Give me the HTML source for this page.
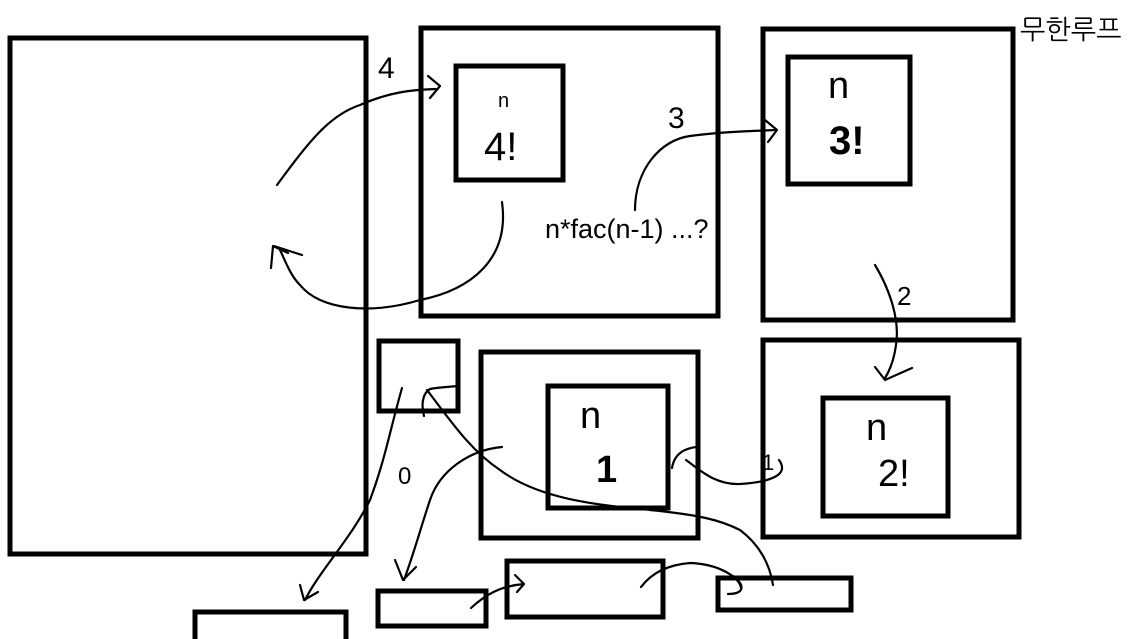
<!DOCTYPE html>
<html><head><meta charset="utf-8"><style>
html,body{margin:0;padding:0;background:#fff;}
svg{display:block;}
text{font-family:"Liberation Sans","NanumGothic","Noto Sans CJK KR",sans-serif;}
.hw{font-family:"Liberation Sans",sans-serif;font-weight:normal;}
</style></head><body>
<svg width="1129" height="639" viewBox="0 0 1129 639" xmlns="http://www.w3.org/2000/svg">
<g fill="none" stroke="#000" stroke-width="5">
<rect x="10" y="38" width="356" height="516"/>
<rect x="421" y="28" width="297" height="288"/>
<rect x="456" y="66" width="107" height="114"/>
<rect x="763" y="29" width="250" height="291"/>
<rect x="788" y="57" width="122" height="127"/>
<rect x="763" y="340" width="256" height="197"/>
<rect x="823" y="398" width="125" height="118"/>
<rect x="481" y="352" width="217" height="186"/>
<rect x="548" y="386" width="120" height="122"/>
<rect x="379" y="341" width="79" height="70"/>
<rect x="195" y="612" width="151" height="40"/>
<rect x="378" y="591" width="108" height="35"/>
<rect x="507" y="561" width="156" height="56"/>
<rect x="718" y="578" width="133" height="32"/>
</g>
<g fill="none" stroke="#000" stroke-width="2.2" stroke-linecap="round" stroke-linejoin="round">
<path d="M277 185 C310 140 330 115 360 105 C390 92 410 90 436 89"/>
<path d="M428 76 L440 86 L430 98"/>
<path d="M502 202 C510 260 470 290 420 300 C370 315 320 310 300 285 C290 275 285 260 280 250"/>
<path d="M271 268 L273 246 L288 253 M274 246 L302 255"/>
<path d="M635 210 C635 170 660 140 690 136 C720 132 750 131 776 130"/>
<path d="M765 120 L777 130 L768 142"/>
<path d="M875 265 C890 290 900 320 896 345 C894 360 890 370 885 378"/>
<path d="M875 367 L885 380 L912 368"/>
<path d="M779 460 C790 475 770 482 740 484 C715 485 700 470 686 460"/>
<path d="M672 468 C675 450 690 448 696 447"/>
<path d="M402 388 C390 430 385 460 370 500 C350 540 320 570 305 600"/>
<path d="M300 585 L304 600 L318 592"/>
<path d="M502 447 C470 450 440 470 430 500 C420 530 415 550 404 580"/>
<path d="M395 560 L403 580 L416 567"/>
<path d="M427 390 C450 420 470 450 500 470 C540 500 600 505 650 510 C700 515 720 520 740 530 C760 545 770 565 773 585"/>
<path d="M424 416 C420 400 425 392 430 389 C440 387 450 387 457 386"/>
<path d="M471 608 C485 595 500 586 524 584"/>
<path d="M515 575 L524 584 L517 592"/>
<path d="M641 587 C650 575 665 565 690 563 C720 564 740 578 741 588"/>
<path d="M733 576 C745 585 745 594 728 594"/>
</g>
<text x="378" y="78" font-size="30" class="hw">4</text>
<text x="668" y="128" font-size="30" class="hw">3</text>
<text x="897" y="305" font-size="26" class="hw">2</text>
<text x="762" y="470" font-size="22" class="hw">1</text>
<text x="398" y="484" font-size="24" class="hw">0</text>
<text x="498" y="107" font-size="20">n</text>
<text x="484" y="160" font-size="40" class="hw">4!</text>
<text x="828" y="98" font-size="38" class="hw">n</text>
<text x="829" y="154" font-size="40" font-weight="bold">3!</text>
<text x="866" y="440" font-size="38" class="hw">n</text>
<text x="878" y="486" font-size="38" class="hw">2!</text>
<text x="580" y="428" font-size="38" class="hw">n</text>
<text x="596" y="482" font-size="38" font-weight="bold">1</text>
<text x="545" y="238" font-size="27">n*fac(n-1) ...?</text>
<text x="1020" y="39" font-size="27">무한루프</text>
</svg>
</body></html>
